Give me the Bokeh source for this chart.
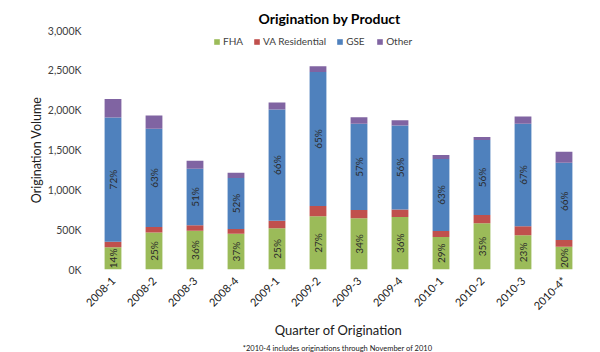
import math
from bokeh.plotting import figure
from bokeh.models import (ColumnDataSource, FactorRange, Range1d, Legend, LegendItem, Title)
from bokeh.core.properties import value
from bokeh.embed import file_html
from bokeh.resources import INLINE

quarters = ["2008-1", "2008-2", "2008-3", "2008-4", "2009-1", "2009-2",
            "2009-3", "2009-4", "2010-1", "2010-2", "2010-3", "2010-4*"]
fha = [279, 466, 487, 450, 517, 667, 642, 658, 408, 579, 429, 287]
va = [69, 67, 67, 58, 95, 129, 104, 96, 75, 104, 113, 84]
gse = [1561, 1233, 712, 642, 1396, 1683, 1083, 1054, 904, 942, 1287, 970]
other = [232, 167, 100, 66, 88, 71, 83, 67, 50, 37, 92, 138]
fha_pct = ["14%", "25%", "36%", "37%", "25%", "27%", "34%", "36%", "29%", "35%", "23%", "20%"]
gse_pct = ["72%", "63%", "51%", "52%", "66%", "65%", "57%", "56%", "63%", "56%", "67%", "66%"]
series = ["FHA", "VA Residential", "GSE", "Other"]
colors = ["#9BBB59", "#C0504D", "#4F81BD", "#8064A2"]
y_ticks = [0, 500, 1000, 1500, 2000, 2500, 3000]
y_tick_labels = ["0K", "500K", "1,000K", "1,500K", "2,000K", "2,500K", "3,000K"]

FONT = "Lato"
TXT = "#404040"

src = ColumnDataSource(dict(q=quarters, FHA=fha, VA=va, GSE=gse, Other=other))

p = figure(width=600, height=352, x_range=FactorRange(*quarters, range_padding=0),
           y_range=Range1d(0, 3000), output_backend="svg", toolbar_location=None,
           min_border_left=92, min_border_right=16, min_border_top=30, min_border_bottom=0)
p.outline_line_color = None
p.xgrid.grid_line_color = None
p.ygrid.grid_line_color = None

rs = p.vbar_stack(["FHA", "VA", "GSE", "Other"], x="q", width=0.41, source=src,
                  color=colors, line_color=None)

# percent labels
fha_mid = [f / 2 for f in fha]
gse_mid = [f + v + g / 2 for f, v, g in zip(fha, va, gse)]
lab_src = ColumnDataSource(dict(q=quarters + quarters, y=fha_mid + gse_mid, t=fha_pct + gse_pct))
p.text(x="q", y="y", text="t", source=lab_src, angle=math.pi / 2, text_align="center",
       text_baseline="middle", text_font_size="10px", text_color="#2a2a2a",
       text_font=value(FONT))

# axes
p.yaxis.ticker = y_ticks
p.yaxis.major_label_overrides = {t: l for t, l in zip(y_ticks, y_tick_labels)}
p.yaxis.axis_line_color = None
p.yaxis.major_tick_line_color = None
p.yaxis.major_tick_out = 0
p.yaxis.major_tick_in = 0
p.yaxis.minor_tick_line_color = None
p.yaxis.minor_tick_out = 0
p.yaxis.major_label_standoff = 11
p.yaxis.major_label_text_font = FONT
p.yaxis.major_label_text_font_size = "10.5px"
p.yaxis.major_label_text_color = TXT
p.yaxis.axis_label = "Origination Volume"
p.yaxis.axis_label_text_font = FONT
p.yaxis.axis_label_text_font_size = "12.5px"
p.yaxis.axis_label_text_font_style = "normal"
p.yaxis.axis_label_text_color = "#202020"
p.yaxis.axis_label_standoff = 1

p.xaxis.axis_line_color = None
p.xaxis.major_tick_line_color = None
p.xaxis.major_tick_out = 0
p.xaxis.major_tick_in = 0
p.xaxis.major_label_orientation = math.pi / 4
p.xaxis.major_label_standoff = 9
p.xaxis.major_label_text_font = FONT
p.xaxis.major_label_text_font_size = "11px"
p.xaxis.major_label_text_color = "#202020"
p.xaxis.axis_label = "Quarter of Origination"
p.xaxis.axis_label_text_font = FONT
p.xaxis.axis_label_text_font_size = "13px"
p.xaxis.axis_label_text_font_style = "normal"
p.xaxis.axis_label_text_color = "#202020"
p.xaxis.axis_label_standoff = 3

# footnote
p.add_layout(Title(text="*2010-4 includes originations through  November of 2010",
                   align="center", text_font=FONT, text_font_size="7.5px",
                   text_font_style="normal", text_color="#202020", standoff=0), "below")

# title
p.title.text = "Origination by Product"
p.title.align = "left"
p.title.offset = 166
p.title.standoff = 7
p.title.text_font = FONT
p.title.text_font_size = "14px"
p.title.text_font_style = "bold"
p.title.text_color = "#000000"

# legend
legend = Legend(items=[LegendItem(label=s, renderers=[r]) for s, r in zip(series, rs)],
                orientation="horizontal", location=(121, 222), padding=0, margin=0,
                spacing=10, glyph_width=7, glyph_height=7, label_standoff=3,
                label_text_font=FONT, label_text_font_size="10px", label_text_color=TXT,
                border_line_color=None, background_fill_alpha=0, label_height=10)
p.add_layout(legend, "center")

open("out.html", "w").write(file_html(p, INLINE))
